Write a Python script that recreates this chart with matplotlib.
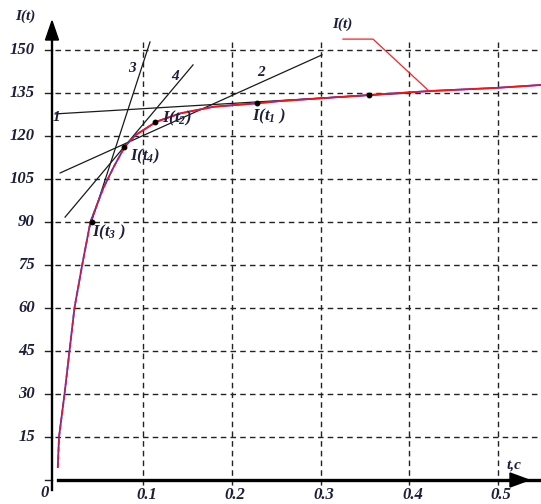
import matplotlib
matplotlib.use("Agg")
import matplotlib.pyplot as plt
from matplotlib.patches import Polygon

plt.rcParams['mathtext.fontset'] = 'custom'
plt.rcParams['mathtext.it'] = 'Liberation Serif:italic:bold'
plt.rcParams['mathtext.rm'] = 'Liberation Serif:italic:bold'
plt.rcParams['mathtext.bf'] = 'Liberation Serif:italic:bold'

# ---- data ----
curve_t = [0.0036, 0.0050, 0.0112, 0.0168, 0.0224, 0.0311, 0.0404, 0.0548, 0.0668,
           0.0792, 0.0912, 0.1149, 0.1419, 0.1794, 0.2276, 0.2547, 0.3549, 0.4238,
           0.4990, 0.5486]
curve_I = [4.5, 15, 30, 45, 60, 75, 90, 101.7, 109.3, 116.3, 120.3, 125.0, 127.9,
           130.2, 131.4, 132.2, 134.3, 135.7, 136.8, 137.8]

point_t = [0.2282, 0.1133, 0.0422, 0.0782, 0.3546]
point_I = [131.4, 124.9, 90.0, 116.2, 134.3]
point_labels = [r'$I(t_{1}\ )$', r'$I(t_{2})$', r'$I(t_{3}\ )$', r'$I(t_{4})$', '']

tangent_names = ['1', '2', '3', '4']
tangent_t = [[0.0005, 0.3974], [0.0062, 0.3016], [0.0400, 0.1076], [0.0118, 0.1561]]
tangent_I = [[127.7, 135.0], [107.1, 148.3], [88.6, 152.8], [91.7, 144.8]]
tangent_label_t = [0.0026, 0.2328, 0.0873, 0.1358]
tangent_label_I = [126.3, 142.2, 143.6, 140.9]

yticks = [15, 30, 45, 60, 75, 90, 105, 120, 135, 150]
xticks = [0.1, 0.2, 0.3, 0.4, 0.5]
xtick_labels = ['0.1', '0.2', '0.3', '0.4', '0.5']

legend_t = [0.3252, 0.3591, 0.4222]
legend_I = [153.8, 153.8, 135.7]

# ---- figure ----
W, H = 541, 504
fig = plt.figure(figsize=(W / 100, H / 100), dpi=100)
ax = fig.add_axes([0, 0, 1, 1])
ax.set_axis_off()
X0, SX = 54.6, 886.7          # px of t=0, px per unit t
Y0, SY = 480.0, 43.0 / 15.0   # px of I=0, px per unit I
ax.set_xlim(-X0 / SX, (W - X0) / SX)
ax.set_ylim((Y0 - H) / SY, Y0 / SY)

def px(x):
    return (x - X0) / SX

def py(y):
    return (Y0 - y) / SY

txtc = '#1b1f3b'
font = dict(family='Liberation Serif', weight='bold', style='italic', color=txtc)

# grid
dash = (0, (4, 3))
for v in yticks:
    ax.plot([px(55), px(541)], [v, v], color='#222222', lw=1.0, ls=dash)
    ax.plot([px(45), px(52)], [v, v], color='#222222', lw=1.0)
    ax.text(px(35), v, str(v), ha='right', va='center', fontsize=12, **font)
ax.plot([px(45), px(52)], [0, 0], color='#222222', lw=1.0)
for v, lab in zip(xticks, xtick_labels):
    ax.plot([v, v], [py(42), py(494)], color='#222222', lw=1.0, ls=dash)
    ax.text(v + px(58) - px(54.6), py(503), lab, ha='center', va='bottom',
            fontsize=12, **font)
ax.text(px(45), py(493), '0', ha='center', va='center', fontsize=12, **font)

# axes lines and arrows
ax.plot([px(52), px(52)], [py(490), py(38)], color='black', lw=1.7)
ax.add_patch(Polygon([[px(52), py(21)], [px(45.5), py(40)], [px(58.5), py(40)]],
                     closed=True, color='black'))
ax.plot([px(58), px(541)], [0, 0], color='black', lw=2.4)
ax.add_patch(Polygon([[px(529), py(480)], [px(510), py(473)], [px(510), py(487)]],
                     closed=True, color='black'))
ax.text(px(25), py(16), 'I(t)', ha='center', va='center', fontsize=11, **font)
ax.text(px(514), py(472), 't,c', ha='center', va='bottom', fontsize=11,
        zorder=5, **font)

# tangent lines
for name, tt, ii, lt, li in zip(tangent_names, tangent_t, tangent_I,
                                tangent_label_t, tangent_label_I):
    ax.plot(tt, ii, color='#1a1a1a', lw=0.9)
    ax.text(lt, li, name, ha='center', va='center', fontsize=11, **font)

# curve
ax.plot(curve_t, curve_I, color='#2a3cff', lw=1.3)
k = 11
ax.plot(curve_t[:k], curve_I[:k], color='#ff1010', lw=1.2, ls=(0, (3, 1.5)))
ax.plot(curve_t[k - 1:], curve_I[k - 1:], color='#ff1010', lw=1.2)

# points
ax.plot(point_t, point_I, 'o', color='black', ms=3.2)
offsets = [(-5, 13), (7, -4), (0, 10), (6, 9), (0, 0)]
for t, i, lab, (dx, dy) in zip(point_t, point_I, point_labels, offsets):
    if lab:
        ax.text(t + dx / SX, i - dy / SY, lab, ha='left', va='center', fontsize=12, **font)

# legend-like leader
ax.plot(legend_t, legend_I, color='#ff2020', lw=0.9)
ax.text(px(342), py(24), 'I(t)', ha='center', va='center', fontsize=11, **font)

fig.savefig('out.png', dpi=100)
